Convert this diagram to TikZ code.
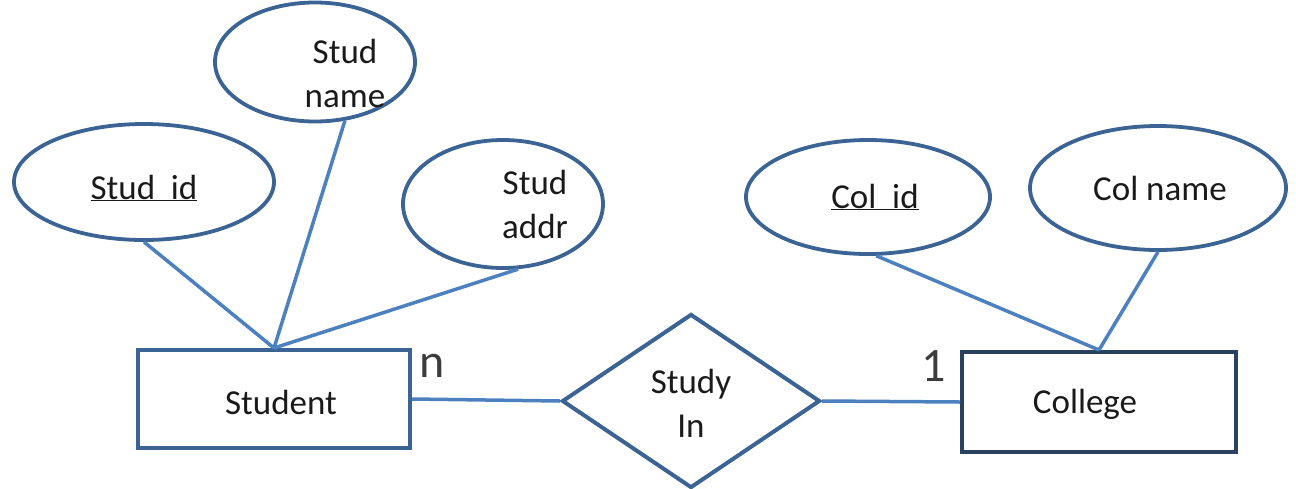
\documentclass[tikz,border=0pt]{standalone}
\usepackage{fontspec}
\setmainfont{Carlito}
\usetikzlibrary{shapes.geometric}
\definecolor{outl}{HTML}{3B6494}
\definecolor{conn}{HTML}{4C80BE}
\definecolor{txt}{HTML}{1A1A1A}
\definecolor{boxd}{HTML}{2A4260}
\begin{document}
\begin{tikzpicture}[x=1pt,y=-1pt,
  attr/.style={ellipse,draw=outl,line width=3.8pt,inner sep=0pt,fill=white},
  entity/.style={rectangle,draw=outl,line width=4pt,inner sep=0pt,fill=white},
  rel/.style={diamond,draw=outl,line width=4pt,inner sep=0pt,fill=white},
  lbl/.style={text=txt,font=\fontsize{35}{44}\selectfont,align=center,inner sep=0pt},
  link/.style={draw=conn,line width=3.5pt},
  card/.style={text=txt!85,font=\fontsize{48}{48}\selectfont,inner sep=0pt}]
\useasboundingbox (0,0) rectangle (1296,488);
% entities
\node[entity,minimum width=272pt,minimum height=98pt] (student) at (274,399) {};
\node[entity,draw=boxd,minimum width=274pt,minimum height=100pt] (college) at (1099,402) {};
\node[rel,minimum width=258pt,minimum height=174pt] (study) at (691,401) {};
% attributes
\node[attr,minimum width=200pt,minimum height=119pt] (sname) at (315,62) {};
\node[attr,minimum width=260pt,minimum height=116pt] (sid) at (144,182) {};
\node[attr,minimum width=200pt,minimum height=128pt] (saddr) at (503,204) {};
\node[attr,minimum width=244pt,minimum height=114pt] (cid) at (868,197) {};
\node[attr,minimum width=256pt,minimum height=124pt] (cname) at (1158,188) {};
% texts
\node[lbl] (student-t) at (281,402) {Student};
\node[lbl] (college-t) at (1085,404) {College};
\node[lbl] (study-t) at (691,403) {Study\\In};
\node[lbl] (sname-t) at (345,73) {Stud\\name};
\node[lbl] (sid-t) at (144,188) {\underline{Stud\ \ id}};
\node[lbl] (saddr-t) at (535,204) {Stud\\addr};
\node[lbl] (cid-t) at (875,197) {\underline{Col\ \ id}};
\node[lbl] (cname-t) at (1160,188) {Col name};
% links
\draw[link] (sid.south) -- (student.north);
\draw[link] (sname.-63) -- (student.north);
\draw[link] (saddr.-77) -- (student.north);
\draw[link] (cid.-82) -- (college.north);
\draw[link] (cname.south) -- (college.north);
\draw[link] (student.east) -- (study.west);
\draw[link] (study.east) -- (college.west);
% cardinalities
\node[card] (cn) at (432,366) {n};
\node[card] (c1) at (934,366) {1};
\end{tikzpicture}
\end{document}
